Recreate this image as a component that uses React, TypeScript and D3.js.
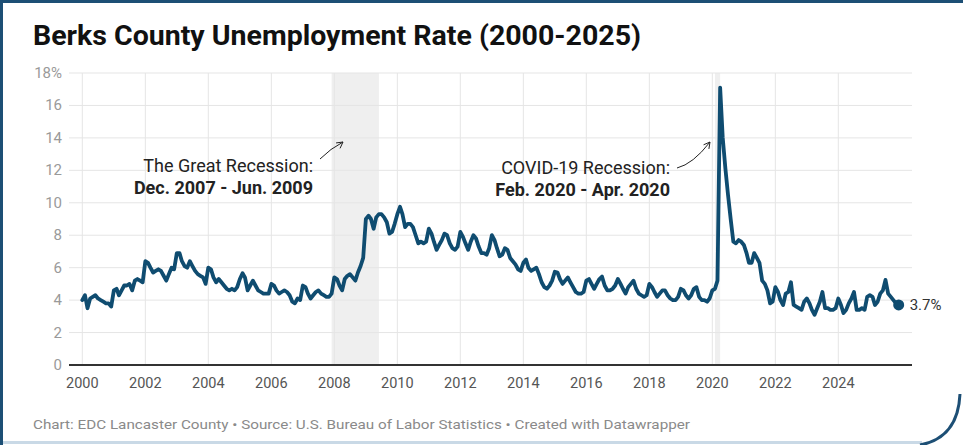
import * as d3 from "d3"

// Monthly unemployment rate (%), Jan..Dec per year
const rates2000s = [
  4.0, 4.3, 3.5, 4.1, 4.2, 4.3, 4.1, 4.0, 3.9, 3.8, 3.8, 3.6, // 2000
  4.6, 4.7, 4.3, 4.6, 4.9, 4.9, 5.0, 4.6, 5.2, 5.3, 5.2, 5.1, // 2001
  6.4, 6.3, 6.0, 5.7, 5.8, 5.9, 5.8, 5.5, 5.2, 5.6, 6.0, 5.9, // 2002
  6.9, 6.9, 6.4, 6.1, 6.0, 6.4, 6.1, 5.8, 5.6, 5.5, 5.4, 5.0, // 2003
  6.0, 5.9, 5.4, 5.1, 5.3, 5.1, 4.9, 4.7, 4.6, 4.7, 4.6, 4.8, // 2004
  5.3, 5.65, 5.4, 4.6, 4.9, 5.2, 4.9, 4.6, 4.5, 4.4, 4.4, 4.4, // 2005
  5.0, 4.9, 4.6, 4.4, 4.5, 4.6, 4.5, 4.3, 3.9, 3.8, 4.1, 4.0, // 2006
  4.9, 4.8, 4.4, 4.1, 4.3, 4.5, 4.6, 4.4, 4.3, 4.2, 4.2, 4.4, // 2007
  5.4, 5.3, 4.9, 4.6, 5.3, 5.5, 5.6, 5.4, 5.2, 5.7, 6.1, 6.6, // 2008
  9.0, 9.2, 9.0, 8.4, 9.1, 9.3, 9.3, 9.1, 8.8, 8.1, 8.2, 8.7, // 2009
]
const rates2010s = [
  9.3, 9.75, 9.3, 8.5, 8.7, 8.7, 8.5, 8.0, 7.5, 7.6, 7.5, 7.6, // 2010
  8.4, 8.1, 7.6, 7.1, 7.4, 7.7, 8.1, 8.0, 7.5, 7.2, 7.1, 7.3, // 2011
  8.2, 7.9, 7.5, 7.1, 7.6, 8.0, 7.8, 7.3, 6.9, 6.9, 6.8, 7.2, // 2012
  8.0, 7.7, 7.2, 6.7, 6.8, 7.2, 7.1, 6.6, 6.4, 6.2, 5.9, 5.8, // 2013
  6.3, 6.5, 6.0, 5.8, 5.9, 6.0, 5.6, 5.1, 4.8, 4.7, 4.9, 5.2, // 2014
  5.75, 5.7, 5.3, 5.0, 5.2, 5.4, 5.1, 4.8, 4.5, 4.4, 4.4, 4.5, // 2015
  5.2, 5.3, 5.0, 4.7, 5.0, 5.3, 5.45, 4.9, 4.6, 4.6, 4.7, 4.9, // 2016
  5.3, 5.0, 4.7, 4.4, 4.8, 5.0, 5.2, 4.7, 4.4, 4.3, 4.2, 4.3, // 2017
  5.0, 4.8, 4.5, 4.2, 4.4, 4.6, 4.6, 4.3, 4.1, 4.0, 4.0, 4.2, // 2018
  4.7, 4.6, 4.3, 4.1, 4.3, 4.7, 4.8, 4.2, 4.0, 4.0, 3.9, 4.1, // 2019
]
const rates2020s = [
  4.6, 4.7, 5.2, 17.1, 14.0, 12.1, 10.5, 9.0, 7.6, 7.5, 7.7, 7.6, // 2020
  7.4, 6.9, 6.3, 6.3, 6.9, 6.6, 6.3, 5.2, 5.0, 4.6, 3.8, 3.9, // 2021
  4.8, 4.5, 4.0, 3.7, 4.4, 4.5, 5.1, 3.7, 3.6, 3.5, 3.4, 3.9, // 2022
  4.1, 3.8, 3.4, 3.1, 3.5, 3.9, 4.5, 3.5, 3.5, 3.4, 3.4, 3.5, // 2023
  4.1, 3.7, 3.2, 3.4, 3.8, 4.1, 4.5, 3.4, 3.4, 3.5, 3.4, 4.2, // 2024
  4.3, 4.2, 3.7, 3.9, 4.4, 4.6, 5.25, 4.4, 4.2, 4.0, 3.8, 3.7, // 2025
]

const yTicks = [0, 2, 4, 6, 8, 10, 12, 14, 16, 18]
const xTickYears = [2000, 2002, 2004, 2006, 2008, 2010, 2012, 2014, 2016, 2018, 2020, 2022, 2024]

const recessions = [
  { start: new Date(2007, 11, 1), end: new Date(2009, 5, 1) },
  { start: new Date(2020, 1, 1), end: new Date(2020, 3, 1) },
]

const W = 963
const H = 445
const FONT = "Roboto, 'Noto Sans', sans-serif"

const allRates = [...rates2000s, ...rates2010s, ...rates2020s]
const data = allRates.map((v, i) => ({ date: new Date(2000, i, 1), value: v }))

function arrowHead(x: number, y: number, angle: number, len = 8) {
  const a1 = angle + Math.PI - 0.5
  const a2 = angle + Math.PI + 0.5
  return `M${x + len * Math.cos(a1)},${y + len * Math.sin(a1)} L${x},${y} L${x + len * Math.cos(a2)},${y + len * Math.sin(a2)}`
}

export default function App() {
  const plotLeft = 69
  const plotRight = 912
  const x = d3.scaleTime()
    .domain([new Date(2000, 0, 1), new Date(2024, 0, 1)])
    .range([82.3, 838.3])
  const y = d3.scaleLinear().domain([0, 18]).range([365, 73])

  const line = d3.line<{ date: Date, value: number }>()
    .x(d => x(d.date))
    .y(d => y(d.value))

  const last = data[data.length - 1]

  // annotation arrows
  const a1 = { x0: 320, y0: 159, x1: 343, y1: 142 }
  const a2 = { x0: 677, y0: 168, x1: 710, y1: 142 }

  return (
    <svg width={W} height={H} style={{ position: "absolute", top: 0, left: 0, background: "#fff" }}
      xmlns="http://www.w3.org/2000/svg">
      <rect x={0} y={0} width={W} height={H} fill="#fff" />

      {/* frame */}
      <line x1={0} y1={442.5} x2={922} y2={442.5} stroke="#c9d9e6" strokeWidth={3} />
      <path d="M1.5,445 L1.5,1.5 L963,1.5" fill="none" stroke="#1d4f75" strokeWidth={3} />
      <path d="M960,394 Q958,438 920,445" fill="none" stroke="#1d4f75" strokeWidth={3} />

      {/* title */}
      <text x={33} y={45} fontFamily={FONT} fontWeight={700} fontSize={28} fill="#111"
        textLength={608} lengthAdjust="spacingAndGlyphs">
        Berks County Unemployment Rate (2000-2025)
      </text>

      {/* recession shading */}
      {recessions.map((r, i) => (
        <rect key={i} x={x(r.start)} y={73} width={x(r.end) - x(r.start)} height={365 - 73} fill="#efefef" />
      ))}

      {/* horizontal grid */}
      {yTicks.map(t => (
        <g key={t}>
          {t > 0 && <line x1={plotLeft} x2={plotRight} y1={y(t)} y2={y(t)} stroke="#e5e5e5" strokeWidth={1} />}
          <text x={62} y={y(t) + 5} textAnchor="end" fontFamily={FONT} fontSize={15} fill="#9a9a9a">
            {t === 18 ? "18%" : t}
          </text>
        </g>
      ))}

      {/* vertical grid + x labels */}
      {xTickYears.map(yr => {
        const xx = x(new Date(yr, 0, 1))
        return (
          <g key={yr}>
            <line x1={xx} x2={xx} y1={73} y2={365} stroke="#e5e5e5" strokeWidth={1} />
            <text x={xx} y={388} textAnchor="middle" fontFamily={FONT} fontSize={14.5} fill="#555">{yr}</text>
          </g>
        )
      })}

      {/* baseline */}
      <line x1={plotLeft} x2={plotRight} y1={365} y2={365} stroke="#333" strokeWidth={2} />

      {/* series */}
      <path d={line(data) ?? ""} fill="none" stroke="#0f4c70" strokeWidth={3.8} strokeLinejoin="round" strokeLinecap="round" />
      <circle cx={x(last.date)} cy={y(last.value)} r={5.5} fill="#0f4c70" />
      <text x={x(last.date) + 11} y={y(last.value) + 5} fontFamily={FONT} fontSize={15} fill="#333">
        {last.value}%
      </text>

      {/* annotations */}
      <text x={313} y={172} textAnchor="end" fontFamily={FONT} fontSize={18} fill="#222">The Great Recession:</text>
      <text x={313} y={194} textAnchor="end" fontFamily={FONT} fontSize={18} fontWeight={700} fill="#222">Dec. 2007 - Jun. 2009</text>
      <path d={`M${a1.x0},${a1.y0} Q${(a1.x0 + a1.x1) / 2 - 1},${(a1.y0 + a1.y1) / 2 - 2} ${a1.x1},${a1.y1}`}
        fill="none" stroke="#222" strokeWidth={1} />
      <path d={arrowHead(a1.x1, a1.y1, Math.atan2(a1.y1 - a1.y0, a1.x1 - a1.x0), 7)} fill="none" stroke="#222" strokeWidth={1} />

      <text x={670} y={174} textAnchor="end" fontFamily={FONT} fontSize={18} fill="#222">COVID-19 Recession:</text>
      <text x={670} y={196} textAnchor="end" fontFamily={FONT} fontSize={18} fontWeight={700} fill="#222">Feb. 2020 - Apr. 2020</text>
      <path d={`M${a2.x0},${a2.y0} Q${a2.x0 + 16},${a2.y0 - 4} ${a2.x1},${a2.y1}`}
        fill="none" stroke="#222" strokeWidth={1} />
      <path d={arrowHead(a2.x1, a2.y1, Math.atan2(a2.y1 - (a2.y0 - 4), a2.x1 - (a2.x0 + 16)), 7)} fill="none" stroke="#222" strokeWidth={1} />

      {/* footer */}
      <text x={33} y={429} fontFamily={FONT} fontSize={13.5} fill="#8a8a8a" textLength={657} lengthAdjust="spacingAndGlyphs">
        Chart: EDC Lancaster County • Source: U.S. Bureau of Labor Statistics • Created with Datawrapper
      </text>
    </svg>
  )
}
